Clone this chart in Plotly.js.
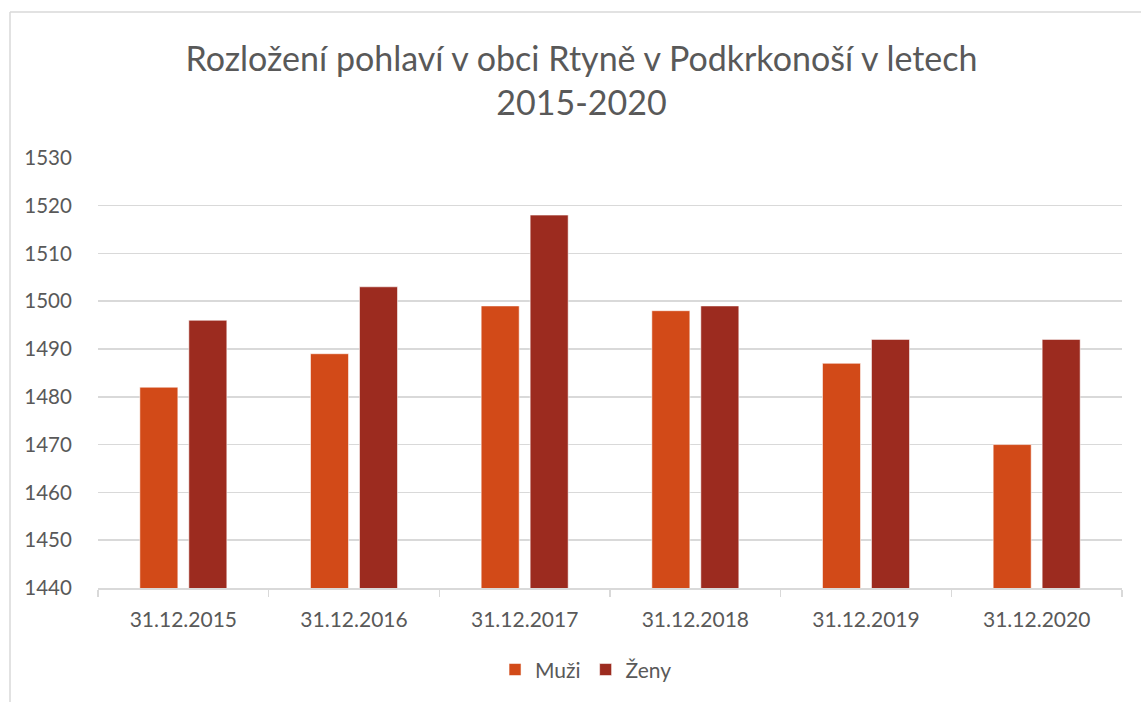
<!DOCTYPE html>
<html>
<head>
<meta charset="utf-8">
<script src="https://cdn.plot.ly/plotly-3.0.1.min.js"></script>
<style>
html,body{margin:0;padding:0;background:#fff;}
#chart{width:1141px;height:702px;}
</style>
</head>
<body>
<div id="chart"></div>
<script>
const categories = ["31.12.2015","31.12.2016","31.12.2017","31.12.2018","31.12.2019","31.12.2020"];
const muzi = [1482, 1489, 1499, 1498, 1487, 1470];
const zeny = [1496, 1503, 1518, 1499, 1492, 1492];
const seriesNames = ["Muži", "Ženy"];
const yTicks = [1440,1450,1460,1470,1480,1490,1500,1510,1520,1530];

const FONT = "Lato, 'Open Sans', sans-serif";
const TXT = "#595959";

const traces = [
  {type:"bar", name:seriesNames[0], x:categories, y:muzi,
   marker:{color:"#D24A18", line:{color:"rgba(255,255,255,0.55)", width:1}}},
  {type:"bar", name:seriesNames[1], x:categories, y:zeny,
   marker:{color:"#9C2B1F", line:{color:"rgba(255,255,255,0.55)", width:1}}}
];

const layout = {
  width:1141, height:702,
  margin:{l:98, r:19, t:157, b:114},
  paper_bgcolor:"#fff", plot_bgcolor:"#fff",
  font:{family:FONT, color:TXT, size:20},
  title:{text:"Rozložení pohlaví v obci Rtyně v Podkrkonoší v letech<br>2015-2020",
         font:{family:FONT, size:34, color:TXT}, x:0.5097, xanchor:"center", y:0.899, yanchor:"middle"},
  barmode:"group", bargap:0.426, bargroupgap:0.224,
  showlegend:true,
  legend:{orientation:"h", x:0.4766, xanchor:"center", y:-0.19, yanchor:"middle",
          font:{family:FONT, size:21, color:TXT}, itemwidth:30, traceorder:"normal"},
  xaxis:{type:"category", showgrid:false, showline:true, linecolor:"#d9d9d9", linewidth:1.5,
         ticks:"outside", tickson:"boundaries", ticklen:7, tickcolor:"#d9d9d9", tickwidth:1.5,
         tickfont:{family:FONT, size:21, color:TXT}, ticklabelstandoff:12, zeroline:false},
  yaxis:{range:[1440,1530.15], tickvals:yTicks, ticktext:yTicks.map(String),
         showgrid:true, gridcolor:"#d9d9d9", gridwidth:1.5, zeroline:false, showline:false,
         ticks:"outside", ticklen:21, tickcolor:"rgba(0,0,0,0)",
         tickfont:{family:FONT, size:20.5, color:TXT}},
  shapes:[
    {type:"line", xref:"paper", yref:"paper", x0:(10-98)/1024, x1:(1145-98)/1024,
     y0:(588-12)/431, y1:(588-12)/431, line:{color:"#d9d9d9", width:1.5}},
    {type:"line", xref:"paper", yref:"paper", x0:(10-98)/1024, x1:(10-98)/1024,
     y0:(588-12)/431, y1:(588-710)/431, line:{color:"#d9d9d9", width:1.5}}
  ]
};

Plotly.newPlot("chart", traces, layout, {displayModeBar:false, staticPlot:true});
</script>
</body>
</html>
